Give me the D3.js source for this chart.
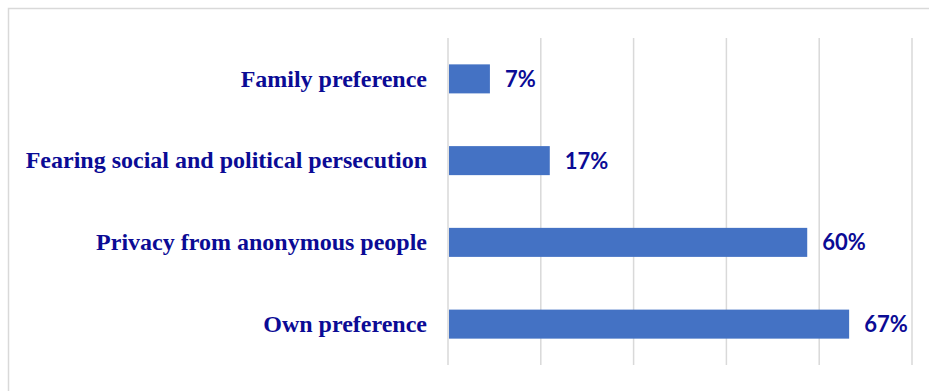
<!DOCTYPE html>
<html>
<head>
<meta charset="utf-8">
<script src="https://cdn.jsdelivr.net/npm/d3@7"></script>
<style>
  html, body { margin: 0; padding: 0; background: #fff; }
  svg { display: block; }
  .cat { font-family: "Liberation Serif", "DejaVu Serif", "Times New Roman", Times, serif; font-weight: 700; }
  .val { font-family: Lato, "Open Sans", sans-serif; font-weight: 700; }
</style>
</head>
<body>
<svg id="chart" width="929" height="391"></svg>
<script>
// Reasons given, top to bottom, and their shares
const categories = ["Family preference", "Fearing social and political persecution", "Privacy from anonymous people", "Own preference"];
const values = [0.07, 0.17, 0.60, 0.67];
const valueLabels = ["7%", "17%", "60%", "67%"];
const gridValues = [0, 0.155, 0.31, 0.465, 0.62, 0.775];

const svg = d3.select("#chart");
const W = 929, H = 391;
const textColor = "#0b0b95";

// outer frame (runs off the right and bottom edges)
svg.append("rect")
  .attr("x", 8.5).attr("y", 8.5)
  .attr("width", W + 20).attr("height", H + 20)
  .attr("fill", "#fff")
  .attr("stroke", "#d9d9d9").attr("stroke-width", 1.5);

const x = d3.scaleLinear().domain([0, 0.775]).range([448, 912]);
const y = d3.scaleBand().domain(categories).range([38, 365])
  .paddingInner(0.645).paddingOuter(0.3225);

// vertical gridlines
svg.append("g").selectAll("line").data(gridValues).join("line")
  .attr("x1", d => x(d)).attr("x2", d => x(d))
  .attr("y1", 38).attr("y2", 365)
  .attr("stroke", "#d9d9d9").attr("stroke-width", 1.5);

// bars
svg.append("g").selectAll("rect").data(values).join("rect")
  .attr("x", x(0) + 1)
  .attr("y", (d, i) => y(categories[i]))
  .attr("width", d => x(d) - x(0) - 1)
  .attr("height", y.bandwidth())
  .attr("fill", "#4472c4");

// value labels
svg.append("g").selectAll("text").data(values).join("text")
  .attr("class", "val")
  .attr("x", d => x(d) + 15)
  .attr("y", (d, i) => y(categories[i]) + y.bandwidth() / 2)
  .attr("dy", "0.36em")
  .attr("font-size", 22)
  .attr("fill", textColor)
  .text((d, i) => valueLabels[i]);

// category labels
svg.append("g").selectAll("text").data(categories).join("text")
  .attr("class", "cat")
  .attr("x", 427)
  .attr("y", d => y(d) + y.bandwidth() / 2)
  .attr("dy", "0.32em")
  .attr("text-anchor", "end")
  .attr("font-size", 24)
  .attr("fill", textColor)
  .text(d => d);
</script>
</body>
</html>
